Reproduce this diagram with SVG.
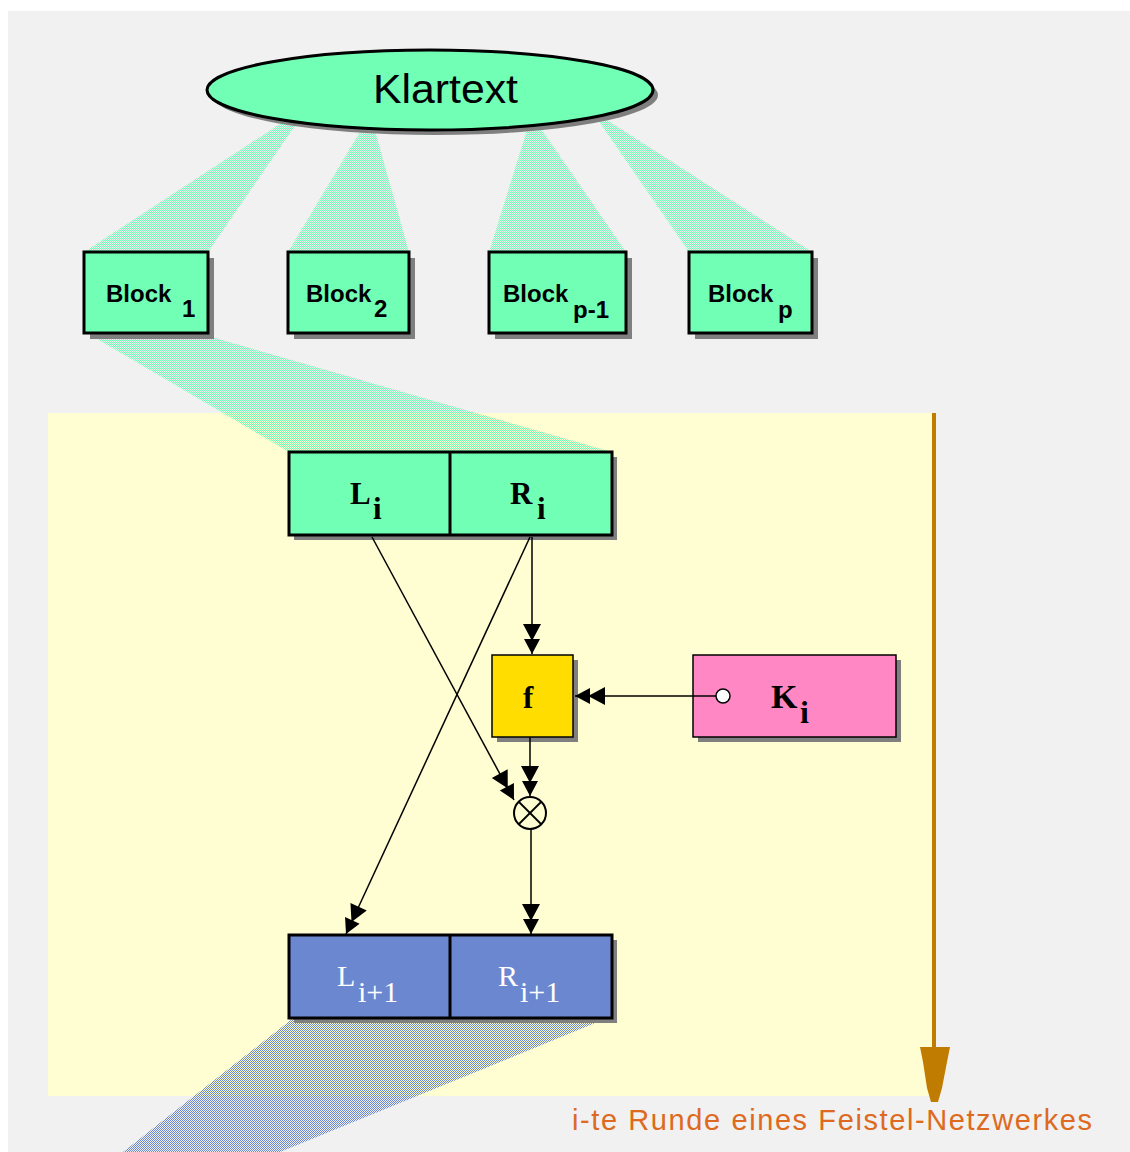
<svg xmlns="http://www.w3.org/2000/svg" width="1130" height="1152" viewBox="0 0 1130 1152">
  <style>
    .shadow { fill: #7f7f7f; }
    .mint { fill: #70ffb4; stroke: #000; stroke-width: 3; }
    .blue { fill: #6b87d0; stroke: #000; stroke-width: 3; }
    .blk { font-family: "Liberation Sans", Arial, sans-serif; font-weight: bold; font-size: 24px; fill: #000; }
    .ser { font-family: "Liberation Serif", "Times New Roman", serif; font-weight: bold; font-size: 31px; fill: #000; }
    .serw { font-family: "Liberation Serif", "Times New Roman", serif; font-size: 30px; fill: #fff; }
    .wire { fill: none; stroke: #000; stroke-width: 1.5; marker-end: url(#ah); }
  </style>
  <defs>
    <pattern id="ditherMint" width="2" height="2" patternUnits="userSpaceOnUse">
      <rect x="0" y="0" width="1" height="1" fill="#70ffb4"/>
      <rect x="1" y="1" width="1" height="1" fill="#70ffb4"/>
    </pattern>
    <pattern id="ditherBlue" width="2" height="2" patternUnits="userSpaceOnUse">
      <rect x="0" y="0" width="1" height="1" fill="#6b87d0"/>
      <rect x="1" y="1" width="1" height="1" fill="#6b87d0"/>
    </pattern>
    <marker id="ah" viewBox="-31 -10 32 20" markerWidth="32" markerHeight="20" refX="0" refY="0" orient="auto" markerUnits="userSpaceOnUse">
      <path d="M0,0 L-15,-8 L-15,-1 L-30,-9 L-30,9 L-15,1 L-15,8Z" fill="#000"/>
    </marker>
  </defs>

  <!-- page background -->
  <rect x="0" y="0" width="1130" height="1152" fill="#ffffff"/>
  <rect x="8" y="11" width="1122" height="1141" fill="#f1f1f1"/>

  <!-- round panel -->
  <rect x="48" y="413" width="887" height="683" fill="#fffdd2"/>

  <!-- projection beams -->
  <g id="beams">
    <polygon points="286,120 299,120 208,252 84,252" fill="url(#ditherMint)"/>
    <polygon points="367,120 372,120 409,252 288,252" fill="url(#ditherMint)"/>
    <polygon points="530,120 535,120 626,252 489,252" fill="url(#ditherMint)"/>
    <polygon points="598,120 607,120 812,252 689,252" fill="url(#ditherMint)"/>
    <polygon points="92,336 208,336 612,452 289,452" fill="url(#ditherMint)"/>
    <polygon points="292,1019 605,1019 280,1152 123,1152" fill="url(#ditherBlue)"/>
  </g>

  <!-- plaintext -->
  <g id="klartext">
    <ellipse cx="435" cy="95" rx="223" ry="40" class="shadow"/>
    <ellipse cx="430" cy="90" rx="223" ry="40" class="mint"/>
    <text x="373" y="103" font-family="Liberation Sans, Arial, sans-serif" font-size="40" textLength="145" lengthAdjust="spacingAndGlyphs">Klartext</text>
  </g>

  <!-- blocks -->
  <g id="block1">
    <rect x="90" y="258" width="124" height="81" class="shadow"/>
    <rect x="84" y="252" width="124" height="81" class="mint"/>
    <text class="blk"><tspan x="106" y="302">Block</tspan><tspan x="182" y="317">1</tspan></text>
  </g>
  <g id="block2">
    <rect x="294" y="258" width="121" height="81" class="shadow"/>
    <rect x="288" y="252" width="121" height="81" class="mint"/>
    <text class="blk"><tspan x="306" y="302">Block</tspan><tspan x="374" y="317">2</tspan></text>
  </g>
  <g id="block-p-1">
    <rect x="495" y="258" width="137" height="81" class="shadow"/>
    <rect x="489" y="252" width="137" height="81" class="mint"/>
    <text class="blk"><tspan x="503" y="302">Block</tspan><tspan x="573" y="318">p-1</tspan></text>
  </g>
  <g id="block-p">
    <rect x="695" y="258" width="123" height="81" class="shadow"/>
    <rect x="689" y="252" width="123" height="81" class="mint"/>
    <text class="blk"><tspan x="708" y="302">Block</tspan><tspan x="778" y="318">p</tspan></text>
  </g>

  <!-- input halves -->
  <g id="li-ri">
    <rect x="294" y="457" width="323" height="83" class="shadow"/>
    <rect x="289" y="452" width="323" height="83" class="mint"/>
    <line x1="450" y1="452" x2="450" y2="535" stroke="#000" stroke-width="3"/>
    <text class="ser"><tspan x="350" y="504">L</tspan><tspan x="373" y="519">i</tspan></text>
    <text class="ser"><tspan x="510" y="504">R</tspan><tspan x="537" y="519">i</tspan></text>
  </g>

  <!-- round function -->
  <g id="f">
    <rect x="497" y="660" width="81" height="82" class="shadow"/>
    <rect x="492" y="655" width="81" height="82" fill="#ffdd00" stroke="#000" stroke-width="1.5"/>
    <text x="523" y="708" class="ser" font-size="36">f</text>
  </g>

  <!-- round key -->
  <g id="ki">
    <rect x="698" y="660" width="203" height="82" class="shadow"/>
    <rect x="693" y="655" width="203" height="82" fill="#ff88c4" stroke="#000" stroke-width="1.5"/>
    <circle cx="723" cy="696" r="7" fill="#fff" stroke="#000" stroke-width="1.5"/>
    <text class="ser"><tspan x="771" y="708" font-size="34">K</tspan><tspan x="800" y="723" font-size="32">i</tspan></text>
  </g>

  <!-- XOR -->
  <g id="xor">
    <circle cx="530" cy="813" r="16" fill="none" stroke="#000" stroke-width="2"/>
    <line x1="519" y1="802" x2="541" y2="824" stroke="#000" stroke-width="1.8"/>
    <line x1="541" y1="802" x2="519" y2="824" stroke="#000" stroke-width="1.8"/>
  </g>

  <!-- output halves -->
  <g id="li1-ri1">
    <rect x="294" y="940" width="323" height="83" class="shadow"/>
    <rect x="289" y="935" width="323" height="83" class="blue"/>
    <line x1="450" y1="935" x2="450" y2="1018" stroke="#000" stroke-width="3"/>
    <text class="serw"><tspan x="337" y="986">L</tspan><tspan x="358" y="1002">i+1</tspan></text>
    <text class="serw"><tspan x="498" y="986">R</tspan><tspan x="520" y="1002">i+1</tspan></text>
  </g>

  <!-- connectors -->
  <g id="connectors">
    <line x1="372" y1="537" x2="514" y2="800" class="wire"/>
    <line x1="530" y1="537" x2="346" y2="934" class="wire"/>
    <line x1="532" y1="537" x2="532" y2="654" class="wire"/>
    <line x1="530" y1="737" x2="530" y2="796" class="wire"/>
    <line x1="531" y1="829" x2="531" y2="934" class="wire"/>
    <line x1="716" y1="696" x2="575" y2="696" class="wire"/>
  </g>

  <!-- round direction -->
  <g id="round-arrow">
    <line x1="934" y1="413" x2="934" y2="1050" stroke="#c07c00" stroke-width="4"/>
    <polygon points="920,1047 950,1047 947,1062 942,1088 938,1102 931,1102 927,1088 923,1062" fill="#c07c00"/>
    <text x="572" y="1130" font-family="Liberation Sans, Arial, sans-serif" font-size="29" fill="#dd6a20" textLength="520" lengthAdjust="spacing">i-te Runde eines Feistel-Netzwerkes</text>
  </g>
</svg>
